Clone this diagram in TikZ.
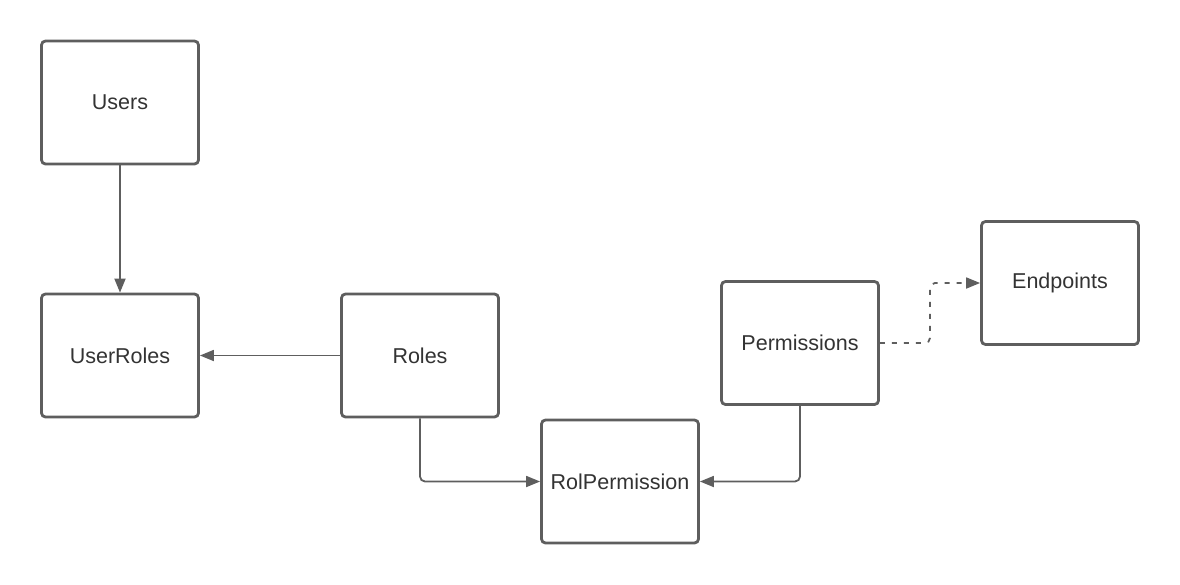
\documentclass[tikz,border=0pt]{standalone}
\usepackage{fontspec}
\setmainfont{Liberation Sans}
\usetikzlibrary{arrows.meta}
\definecolor{ln}{HTML}{5E5E5E}
\definecolor{tx}{HTML}{333333}
\tikzset{
  ent/.style={draw=ln, line width=2.8pt, rounded corners=4pt, minimum width=157pt, minimum height=123pt, inner sep=0pt, font=\fontsize{21.5}{24}\selectfont, text=tx, fill=white},
  conn/.style={draw=ln, line width=1.8pt, rounded corners=5pt, -{Triangle[length=14pt,width=11pt]}},
  dconn/.style={conn, dash pattern=on 5pt off 7pt}
}
\begin{document}
\begin{tikzpicture}[x=1pt,y=-1pt]
\useasboundingbox (0,0) rectangle (1180,584);
\node[ent] (users) at (120,102.5) {Users};
\node[ent] (userroles) at (120,355.5) {UserRoles};
\node[ent] (roles) at (420,355.5) {Roles};
\node[ent] (rolperm) at (620,481.5) {RolPermission};
\node[ent] (perms) at (800,343) {Permissions};
\node[ent] (endp) at (1060,283) {Endpoints};
\draw[conn] (users.south) -- (userroles.north);
\draw[conn] (roles.west) -- (userroles.east);
\draw[conn] (roles.south) |- (rolperm.west);
\draw[conn] (perms.south) |- (rolperm.east);
\coordinate (dk) at (930,343);
\draw[dconn] (perms.east) -- (dk) |- (endp.west);
\end{tikzpicture}
\end{document}
